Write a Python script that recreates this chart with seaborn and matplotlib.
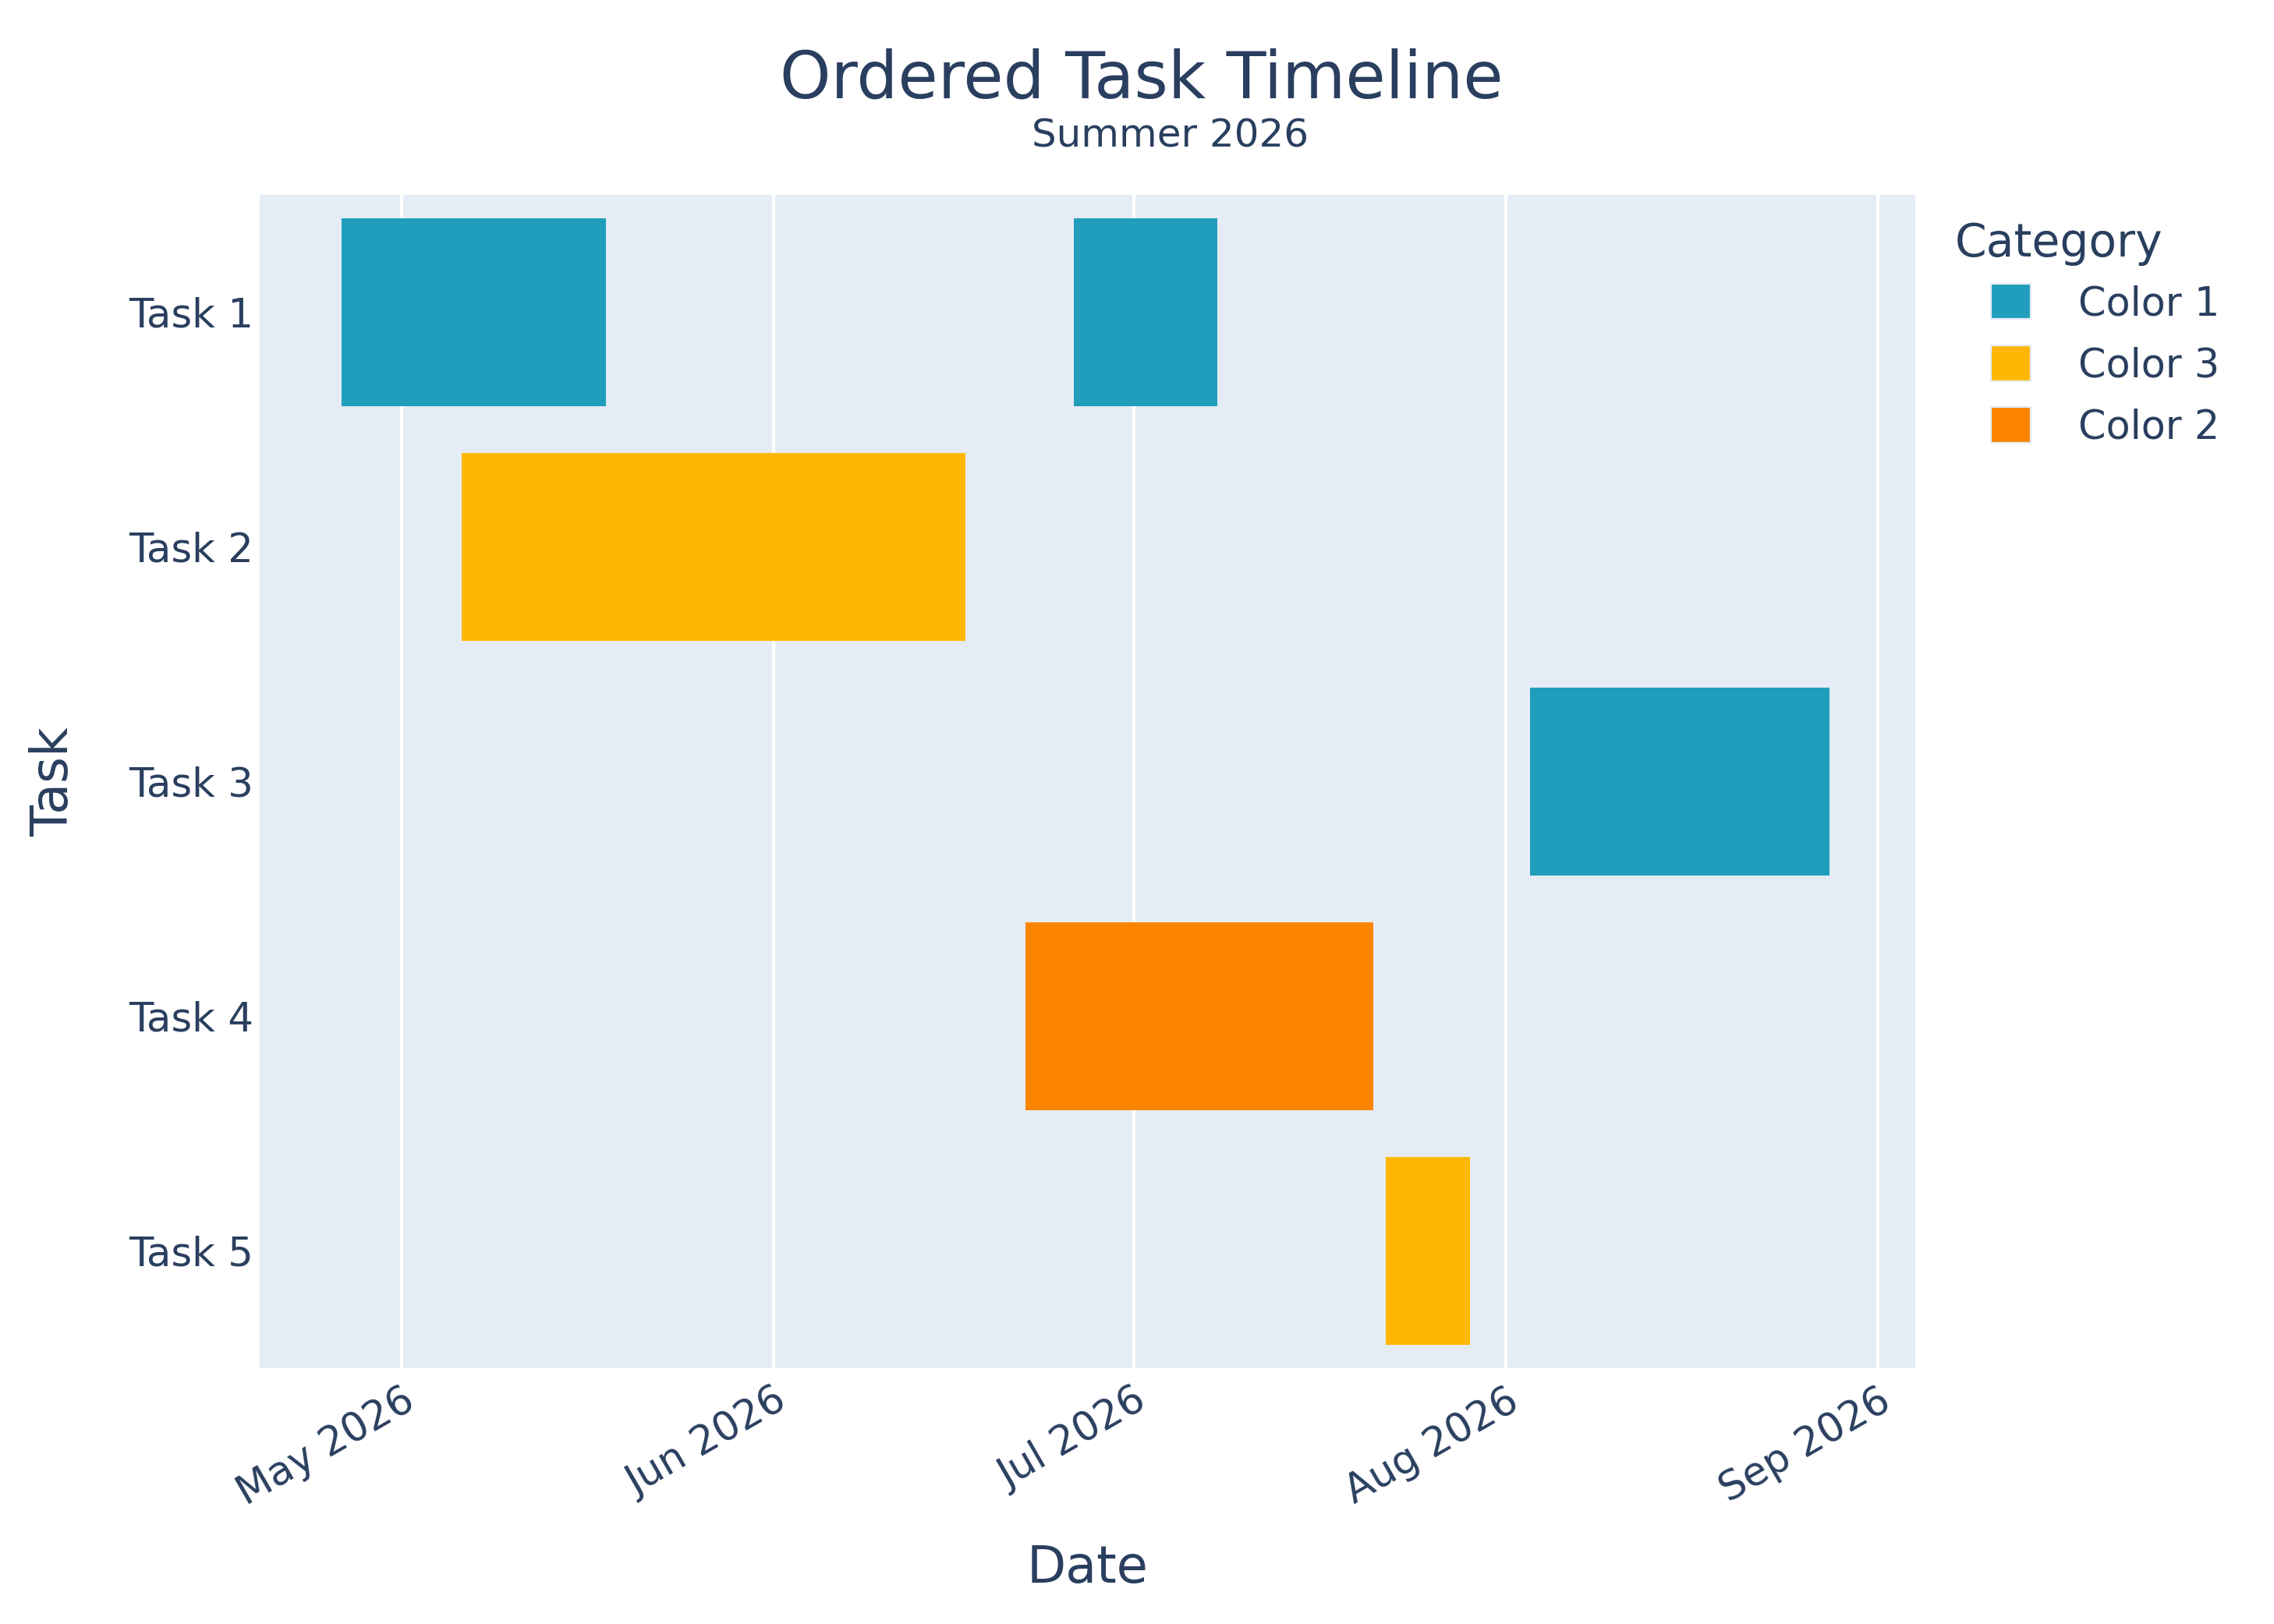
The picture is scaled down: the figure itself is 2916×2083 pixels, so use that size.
import numpy as np
import pandas as pd
import matplotlib
matplotlib.use("Agg")
import matplotlib.pyplot as plt
import matplotlib.dates as mdates
import matplotlib.patches as mpatches
import seaborn as sns

# ── data ───────────────────────────────────────────────────────────────────
task_order = ["Task 1", "Task 2", "Task 3", "Task 4", "Task 5"]
tasks      = ["Task 1", "Task 1", "Task 2", "Task 3", "Task 4", "Task 5"]
starts     = ["2026-04-26", "2026-06-26", "2026-05-06", "2026-08-03", "2026-06-22", "2026-07-22"]
ends       = ["2026-05-18", "2026-07-08", "2026-06-17", "2026-08-28", "2026-07-21", "2026-07-29"]
categories = ["Color 1", "Color 1", "Color 3", "Color 1", "Color 2", "Color 3"]
legend_order = ["Color 1", "Color 3", "Color 2"]
month_ticks  = ["2026-05-01", "2026-06-01", "2026-07-01", "2026-08-01", "2026-09-01"]

colors = {"Color 1": "#219EBC", "Color 2": "#FB8500", "Color 3": "#FFB703"}
TXT = "#2A3F5F"

df = pd.DataFrame({"Task": tasks, "Start": pd.to_datetime(starts),
                   "Finish": pd.to_datetime(ends), "Category": categories})
df["pos"] = df["Task"].map({t: i for i, t in enumerate(task_order)})

sns.set_theme(style="darkgrid", rc={"axes.facecolor": "#E5ECF6",
                                    "grid.color": "white",
                                    "grid.linewidth": 1.5})
plt.rcParams["font.family"] = ["DejaVu Sans"]

fig = plt.figure(figsize=(14.58, 10.415), dpi=200)
ax = fig.add_axes([0.1142, 0.1575, 0.728, 0.7225])

start_num = mdates.date2num(df["Start"])
end_num   = mdates.date2num(df["Finish"])
ax.barh(df["pos"], end_num - start_num, left=start_num, height=0.8,
        color=[colors[c] for c in df["Category"]], linewidth=0, zorder=3)

ax.xaxis_date()
ax.set_xlim(mdates.date2num(pd.Timestamp("2026-04-19 04:00")),
            mdates.date2num(pd.Timestamp("2026-09-04 03:00")))
ax.set_ylim(4.5, -0.5)
ax.set_yticks(range(len(task_order)))
ax.set_yticklabels(task_order, fontsize=18.5, color=TXT)
ax.set_xticks(mdates.date2num(pd.to_datetime(month_ticks)))
ax.xaxis.set_major_formatter(mdates.DateFormatter("%b %Y"))
for lab in ax.get_xticklabels():
    lab.set_rotation(30)
    lab.set_ha("right")
    lab.set_va("top")
    lab.set_rotation_mode("anchor")
    lab.set_fontsize(18.5)
    lab.set_color(TXT)
ax.grid(axis="y", visible=False)
ax.grid(axis="x", visible=True, zorder=1)
ax.tick_params(axis="both", length=0)
ax.tick_params(axis="y", pad=3)
ax.tick_params(axis="x", pad=6)
for s in ax.spines.values():
    s.set_visible(False)

ax.set_xlabel("Date", fontsize=23.5, color=TXT, labelpad=14)
ax.set_ylabel("Task", fontsize=23.5, color=TXT, labelpad=23)

fig.text(0.502, 0.951, "Ordered Task Timeline", fontsize=30, color=TXT,
         ha="center", va="center")
fig.text(0.5145, 0.916, "Summer 2026", fontsize=18, color=TXT,
         ha="center", va="center")

# legend: title as its own text so the swatches can sit indented under it
fig.text(0.8597, 0.842, "Category", fontsize=21, color=TXT,
         ha="left", va="baseline")
handles = [mpatches.Patch(facecolor=colors[c], edgecolor="#E5ECF6", linewidth=0.8, label=c)
           for c in legend_order]
leg = fig.legend(handles=handles, loc="upper left",
                 bbox_to_anchor=(0.8755, 0.8253), frameon=False,
                 fontsize=18.3, alignment="left",
                 handlelength=1.0, handleheight=1.0, handletextpad=1.2,
                 labelspacing=0.55, borderpad=0.0, borderaxespad=0.0)
for t in leg.get_texts():
    t.set_color(TXT)

fig.savefig("out.png", dpi=200, facecolor="white")
